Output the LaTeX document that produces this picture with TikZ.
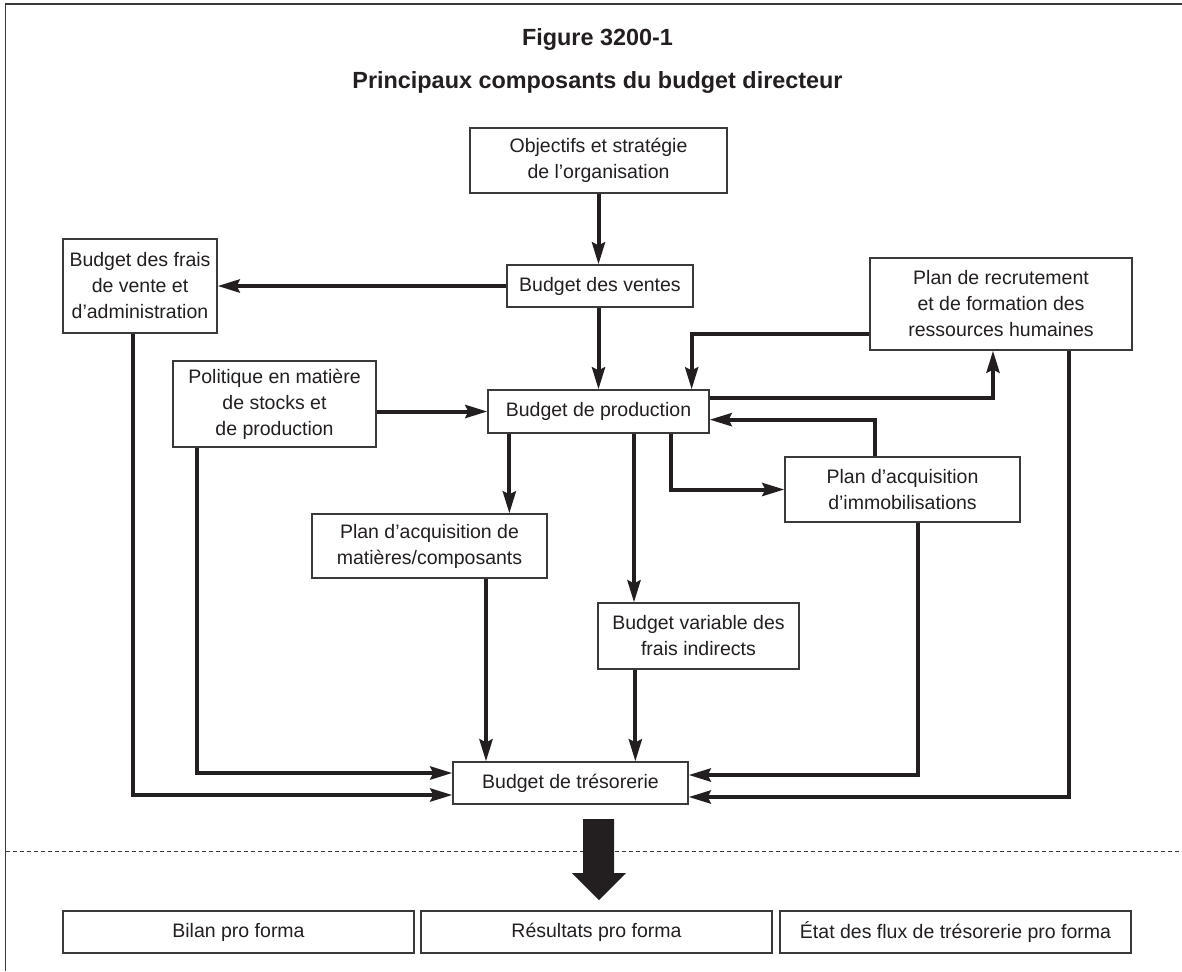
\documentclass[tikz,border=0pt]{standalone}
\usepackage{fontspec}
\setmainfont{Liberation Sans}
\usepackage{xcolor}
\usepackage{tikz}
\usetikzlibrary{arrows.meta}
\definecolor{bdgInk}{HTML}{231F20}
\definecolor{bdgFrame}{HTML}{3A3A3A}
\newcommand{\bdgBoxFont}{\fontsize{19.5}{26}\selectfont}
\newcommand{\bdgTitleFont}{\fontsize{23.4}{28}\selectfont\bfseries}

\begin{document}
\begin{tikzpicture}[x=1pt, y=-1pt,
  bdgbox/.style={draw=bdgFrame, line width=1.3pt, fill=white, align=center,
                 inner sep=0pt, text=bdgInk, font=\bdgBoxFont},
  bdgtitle/.style={text=bdgInk, font=\bdgTitleFont, inner sep=0pt},
  conn/.style={draw=bdgInk, line width=4pt,
               -{Stealth[length=22pt, width=13pt, inset=3pt]}}]
  \useasboundingbox (0,0) rectangle (1182,971);

  % frame and separator
  \draw[bdgFrame, line width=1.3pt] (5.5,971) -- (5.5,4) -- (1182,4);
  \draw[bdgFrame, line width=1pt, dash pattern=on 4pt off 3pt] (5.5,851) -- (1182,851);

  % titles
  \node[bdgtitle] (fig) at (597.5,40) {Figure 3200-1};
  \node[bdgtitle] (ttl) at (597.5,83) {Principaux composants du budget directeur};

  % boxes
  \node[bdgbox, minimum width=257pt, minimum height=65pt] (obj) at (598.5,160.5)
    {Objectifs et stratégie\\de l’organisation};
  \node[bdgbox, minimum width=186pt, minimum height=42pt] (ventes) at (600,286)
    {Budget des ventes};
  \node[bdgbox, minimum width=154pt, minimum height=94pt] (frais) at (140,286)
    {Budget des frais\\de vente et\\d’administration};
  \node[bdgbox, minimum width=262pt, minimum height=92pt] (recrut) at (1001,304)
    {Plan de recrutement\\et de formation des\\ressources humaines};
  \node[bdgbox, minimum width=203pt, minimum height=86pt] (polit) at (274.5,404)
    {Politique en matière\\de stocks et\\de production};
  \node[bdgbox, minimum width=221pt, minimum height=43pt] (prod) at (598.5,411.5)
    {Budget de production};
  \node[bdgbox, minimum width=235pt, minimum height=65pt] (immob) at (902.5,489.5)
    {Plan d’acquisition\\d’immobilisations};
  \node[bdgbox, minimum width=235pt, minimum height=64pt] (mat) at (429.5,546)
    {Plan d’acquisition de\\matières/composants};
  \node[bdgbox, minimum width=201pt, minimum height=66pt] (var) at (698.5,636)
    {Budget variable des\\frais indirects};
  \node[bdgbox, minimum width=235pt, minimum height=42pt] (treso) at (570.5,783)
    {Budget de trésorerie};

  \node[bdgbox, minimum width=351pt, minimum height=42pt] (bilan) at (238.5,932)
    {Bilan pro forma};
  \node[bdgbox, minimum width=351pt, minimum height=42pt] (result) at (596.5,932)
    {Résultats pro forma};
  \node[bdgbox, minimum width=351pt, minimum height=42pt] (etat) at (955.5,932)
    {État des flux de trésorerie pro forma};

  % connectors
  \coordinate (pm) at ([xshift=22pt]prod.south west);
  \coordinate (pv) at ([xshift=35.5pt]prod.south);
  \coordinate (mt) at ([xshift=56.5pt]mat.south);
  \coordinate (vt) at ([xshift=38pt]var.south west);

  \draw[conn] (obj.south) -- (obj.south |- ventes.north);
  \draw[conn] (ventes.west) -- (frais.east);
  \draw[conn] (prod.north |- ventes.south) -- (prod.north);
  \draw[conn] (polit.east |- prod.west) -- (prod.west);
  \draw[conn] ([yshift=17pt]recrut.south west) -| ([xshift=-18pt]prod.north east);
  \draw[conn] ([yshift=-9pt]prod.north east) -| ([xshift=-8pt]recrut.south);
  \draw[conn] ([xshift=91pt]immob.north west) |- ([yshift=14pt]prod.south east);
  \draw[conn] ([xshift=-39pt]prod.south east) |- (immob.west);
  \draw[conn] (pm) -- (pm |- mat.north);
  \draw[conn] (pv) -- (pv |- var.north);
  \draw[conn] (mt) -- (mt |- treso.north);
  \draw[conn] (vt) -- (vt |- treso.north);
  \draw[conn] ([xshift=25pt]polit.south west) |- ([yshift=10pt]treso.west);
  \draw[conn] ([xshift=-7pt]frais.south) |- ([yshift=-12pt]treso.west);
  \draw[conn] ([xshift=15.5pt]immob.south) |- ([yshift=8pt]treso.east);
  \draw[conn] ([xshift=68pt]recrut.south) |- ([yshift=-14pt]treso.east);

  % big arrow to the pro forma statements
  \fill[bdgInk] (583,819) -- (614,819) -- (614,873) -- (626,873) -- (599,900)
    -- (572,873) -- (583,873) -- cycle;
\end{tikzpicture}
\end{document}
